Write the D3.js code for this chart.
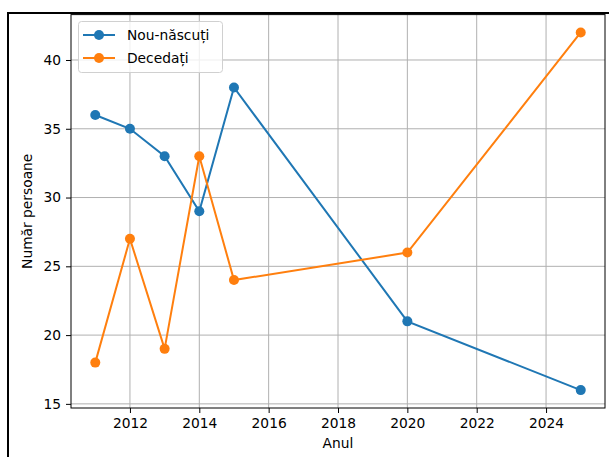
<!DOCTYPE html>
<html><head><meta charset="utf-8">
<script src="https://cdn.jsdelivr.net/npm/d3@7"></script>
<style>body{margin:0;background:#fff}svg{display:block}text{font-family:"DejaVu Sans",sans-serif;fill:#000}</style>
</head><body>
<svg id="c" width="609" height="457"></svg>
<script>
const years = [2011, 2012, 2013, 2014, 2015, 2020, 2025];
const nouNascuti = [36, 35, 33, 29, 38, 21, 16];
const decedati = [18, 27, 19, 33, 24, 26, 42];
const xTicks = [2012, 2014, 2016, 2018, 2020, 2022, 2024];
const yTicks = [15, 20, 25, 30, 35, 40];
const seriesNames = ["Nou-născuți", "Decedați"];
const colors = ["#1f77b4", "#ff7f0e"];

const svg = d3.select("#c");
const L = 71, R = 605, T = 14.6, B = 408;
const FS = "13.8px";
const x = d3.scaleLinear().domain([2010.3, 2025.7]).range([L, R]);
const y = d3.scaleLinear().domain([14.7, 43.3]).range([B, T]);

// outer frame
svg.append("rect").attr("x", 8).attr("y", 13).attr("width", 620).attr("height", 460)
  .attr("fill", "none").attr("stroke", "#000").attr("stroke-width", 2);

// grid
const g = svg.append("g");
g.selectAll(".gx").data(xTicks).enter().append("line")
  .attr("x1", d => x(d)).attr("x2", d => x(d)).attr("y1", T).attr("y2", B)
  .attr("stroke", "#b0b0b0").attr("stroke-width", 1);
g.selectAll(".gy").data(yTicks).enter().append("line")
  .attr("y1", d => y(d)).attr("y2", d => y(d)).attr("x1", L).attr("x2", R)
  .attr("stroke", "#b0b0b0").attr("stroke-width", 1);

// axes
const xa = svg.append("g").attr("transform", `translate(0,${B})`)
  .call(d3.axisBottom(x).tickValues(xTicks).tickFormat(d3.format("d")).tickSize(5).tickPadding(5));
const ya = svg.append("g").attr("transform", `translate(${L},0)`)
  .call(d3.axisLeft(y).tickValues(yTicks).tickSize(5).tickPadding(5));
[xa, ya].forEach(a => { a.select(".domain").remove(); a.selectAll("text").style("font-size", FS).style("font-family", "DejaVu Sans"); a.selectAll("line").attr("stroke", "#000"); });

// spines
svg.append("rect").attr("x", L).attr("y", T).attr("width", R - L).attr("height", B - T)
  .attr("fill", "none").attr("stroke", "#000").attr("stroke-width", 1);

// series
const data = [nouNascuti, decedati];
const line = d3.line().x((d, i) => x(years[i])).y(d => y(d));
data.forEach((s, k) => {
  svg.append("path").attr("d", line(s)).attr("fill", "none").attr("stroke", colors[k]).attr("stroke-width", 2);
  svg.selectAll(".m" + k).data(s).enter().append("circle")
    .attr("cx", (d, i) => x(years[i])).attr("cy", d => y(d)).attr("r", 5).attr("fill", colors[k]);
});

// labels
svg.append("text").attr("x", (L + R) / 2).attr("y", 448).attr("text-anchor", "middle").style("font-size", FS).text("Anul");
svg.append("text").attr("transform", `translate(32,${(T + B) / 2}) rotate(-90)`).attr("text-anchor", "middle").style("font-size", FS).text("Număr persoane");

// legend
const lg = svg.append("g");
lg.append("rect").attr("x", 78.5).attr("y", 21.5).attr("width", 144).attr("height", 51).attr("rx", 3)
  .attr("fill", "#fff").attr("fill-opacity", 0.8).attr("stroke", "#d0d0d0");
seriesNames.forEach((n, k) => {
  const yy = 35 + k * 23;
  lg.append("line").attr("x1", 83).attr("x2", 115).attr("y1", yy).attr("y2", yy).attr("stroke", colors[k]).attr("stroke-width", 2);
  lg.append("circle").attr("cx", 99).attr("cy", yy).attr("r", 5).attr("fill", colors[k]);
  lg.append("text").attr("x", 127).attr("y", yy + 5).style("font-size", FS).text(n);
});
</script>
</body></html>
